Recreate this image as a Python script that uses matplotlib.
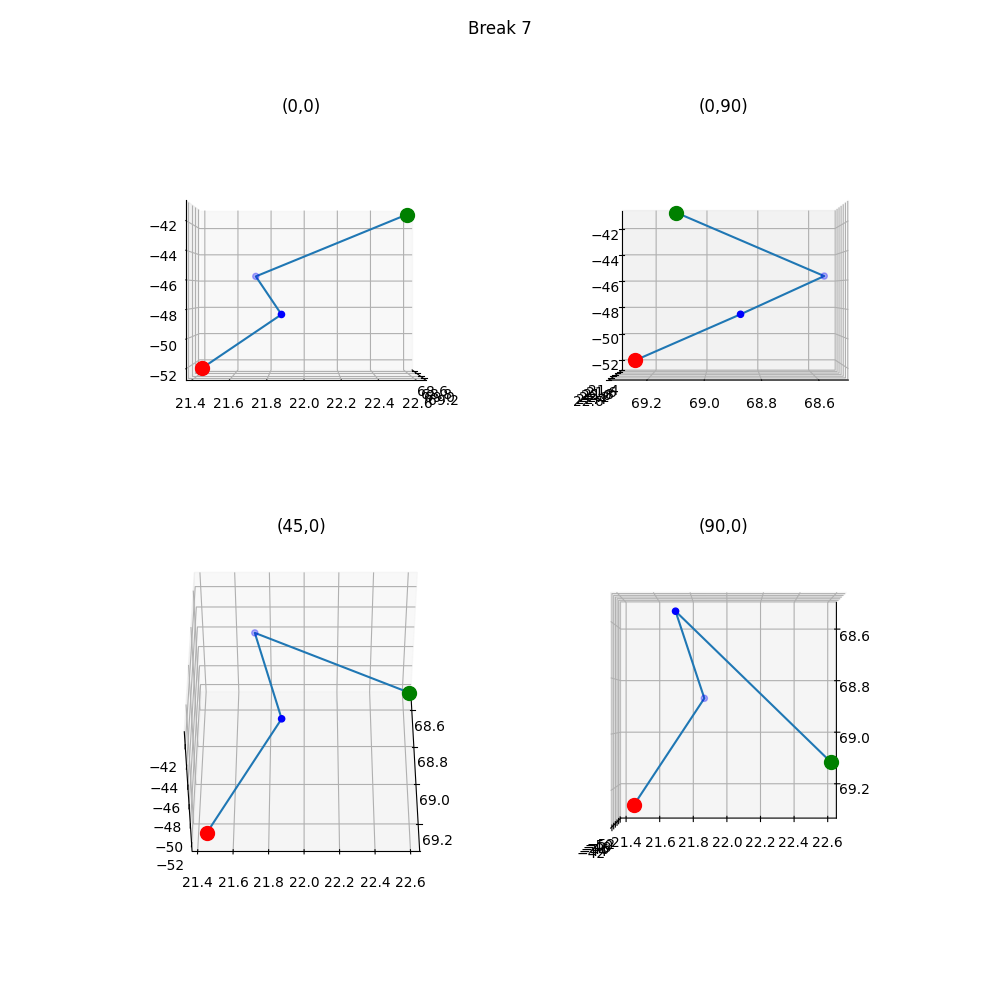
import matplotlib
matplotlib.use('Agg')
import matplotlib.pyplot as plt

# 断点轨迹坐标（起点、中间点、终点）
xs = [69.28, 68.87, 68.55, 69.10]
ys = [21.45, 21.87, 21.71, 22.57]
zs = [-52.0, -48.45, -45.65, -41.4]

views = [(0, 0), (0, 90), (45, 0), (90, 0)]
# 微小偏移，使坐标轴的摆放与原图一致
view_offsets = [(0, 0), (0, -0.01), (0, 0), (-0.01, 0.01)]

fig = plt.figure(figsize=(10, 10))
fig.suptitle('Break 7')

for i, (elev, azim) in enumerate(views):
    ax = fig.add_subplot(2, 2, i + 1, projection='3d')
    ax.plot(xs, ys, zs)
    ax.scatter(xs[1:-1], ys[1:-1], zs[1:-1], color='b')
    ax.scatter(xs[0], ys[0], zs[0], color='r', s=100)
    ax.scatter(xs[-1], ys[-1], zs[-1], color='g', s=100)
    de, da = view_offsets[i]
    ax.view_init(elev + de, azim + da)
    ax.set_title('(%d,%d)' % (elev, azim))

plt.savefig('out.png')
